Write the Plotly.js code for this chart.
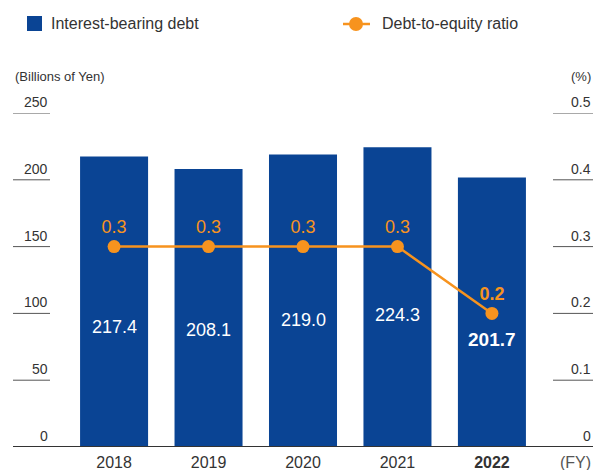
<!DOCTYPE html>
<html>
<head>
<meta charset="utf-8">
<script src="https://cdn.plot.ly/plotly-3.0.1.min.js"></script>
<style>
  html, body { margin: 0; padding: 0; background: #fff; }
  #chart { width: 606px; height: 470px; }
</style>
</head>
<body>
<div id="chart"></div>
<script>
// Fiscal years and series
const years = ['2018', '2019', '2020', '2021', '2022'];
const debt = [217.4, 208.1, 219.0, 224.3, 201.7];      // billions of yen
const ratio = [0.3, 0.3, 0.3, 0.3, 0.2];               // debt-to-equity ratio
const debtTicks = [0, 50, 100, 150, 200, 250];
const ratioTicks = [0, 0.1, 0.2, 0.3, 0.4, 0.5];

const BLUE = '#0A4494';
const ORANGE = '#F7931E';
const NARROW = '"Liberation Sans Narrow", "Liberation Sans", Arial, sans-serif';
const SANS = '"Liberation Sans", Arial, sans-serif';
const last = years.length - 1;

// vertical placement of the white value labels inside each bar (axis units)
const valueLabelY = [89.8, 87.6, 95.1, 98.8, 80.1];

const bars = {
  type: 'bar',
  x: years,
  y: debt,
  width: 0.72,
  marker: { color: BLUE },
  hoverinfo: 'skip',
  showlegend: false
};

const line = {
  type: 'scatter',
  mode: 'lines+markers+text',
  x: years,
  y: ratio,
  yaxis: 'y2',
  line: { color: ORANGE, width: 2.5 },
  marker: { color: ORANGE, size: 13 },
  text: ratio.map((v, i) => i === last ? '<b>' + v.toFixed(1) + '</b>' : v.toFixed(1)),
  textposition: 'top center',
  textfont: { family: SANS, size: 18, color: ORANGE },
  cliponaxis: false,
  hoverinfo: 'skip',
  showlegend: false
};

const leftEdge = (50 - 13) / 580;
const rightStart = (553 - 13) / 580;

const shapes = [];
const annotations = [];

// short tick rules and labels on both sides
debtTicks.forEach(v => {
  if (v !== 0) {
    shapes.push({ type: 'line', xref: 'paper', yref: 'y', x0: 0, x1: leftEdge, y0: v, y1: v,
                  line: { color: '#555', width: 1 } });
  }
  annotations.push({ xref: 'paper', yref: 'y', x: leftEdge, y: v, xanchor: 'right', yanchor: 'bottom',
                     yshift: 1, showarrow: false, text: String(v),
                     font: { family: NARROW, size: 14, color: '#333' } });
});
ratioTicks.forEach(v => {
  if (v !== 0) {
    shapes.push({ type: 'line', xref: 'paper', yref: 'y2', x0: rightStart, x1: 1, y0: v, y1: v,
                  line: { color: '#555', width: 1 } });
  }
  annotations.push({ xref: 'paper', yref: 'y2', x: 1, y: v, xanchor: 'right', yanchor: 'bottom',
                     yshift: 1, showarrow: false, text: v === 0 ? '0' : v.toFixed(1),
                     font: { family: NARROW, size: 14, color: '#333' } });
});

// baseline
shapes.push({ type: 'line', xref: 'paper', yref: 'y', x0: 0, x1: 1, y0: 0, y1: 0,
              line: { color: '#333', width: 2 }, layer: 'above' });

// values inside the bars (x given as category index)
debt.forEach((v, i) => {
  annotations.push({ x: i, y: valueLabelY[i], xref: 'x', yref: 'y', showarrow: false,
                     xanchor: 'center', yanchor: 'middle',
                     text: i === last ? '<b>' + v.toFixed(1) + '</b>' : v.toFixed(1),
                     font: { family: SANS, size: i === last ? 19 : 18, color: '#fff' } });
});

// unit captions
annotations.push({ xref: 'paper', yref: 'paper', x: 0, y: (447 - 76) / 334, xanchor: 'left', yanchor: 'middle',
                   showarrow: false, text: '(Billions of Yen)', font: { family: NARROW, size: 13, color: '#333' } });
annotations.push({ xref: 'paper', yref: 'paper', x: 1, y: (447 - 76) / 334, xanchor: 'right', yanchor: 'middle',
                   showarrow: false, text: '(%)', font: { family: NARROW, size: 13, color: '#333' } });
annotations.push({ xref: 'paper', yref: 'paper', x: 1, y: (447 - 462) / 334, xanchor: 'right', yanchor: 'middle',
                   showarrow: false, text: '(FY)', font: { family: NARROW, size: 16, color: '#555' } });

// legend
const px = x => (x - 13) / 580;
const py = y => (447 - y) / 334;
shapes.push({ type: 'rect', xref: 'paper', yref: 'paper', x0: px(27), x1: px(42), y0: py(31), y1: py(16),
              fillcolor: BLUE, line: { width: 0 } });
annotations.push({ xref: 'paper', yref: 'paper', x: px(49), y: py(24), xanchor: 'left', yanchor: 'middle',
                   showarrow: false, text: 'Interest-bearing debt', font: { family: SANS, size: 16, color: '#333' } });
shapes.push({ type: 'line', xref: 'paper', yref: 'paper', x0: px(343), x1: px(370), y0: py(24), y1: py(24),
              line: { color: ORANGE, width: 2.5 } });
shapes.push({ type: 'circle', xref: 'paper', yref: 'paper', x0: px(349), x1: px(363), y0: py(31), y1: py(17),
              fillcolor: ORANGE, line: { width: 0 } });
annotations.push({ xref: 'paper', yref: 'paper', x: px(380), y: py(24), xanchor: 'left', yanchor: 'middle',
                   showarrow: false, text: 'Debt-to-equity ratio', font: { family: SANS, size: 16, color: '#333' } });

const layout = {
  width: 606,
  height: 470,
  margin: { l: 13, r: 13, t: 113, b: 23, pad: 0 },
  paper_bgcolor: '#fff',
  plot_bgcolor: '#fff',
  showlegend: false,
  xaxis: {
    type: 'category',
    range: [-1.07, 5.07],
    tickvals: years,
    ticktext: years.map((y, i) => i === last ? '<b>' + y + '</b>' : y),
    tickfont: { family: SANS, size: 16, color: '#333' },
    ticks: '',
    ticklabelstandoff: 4,
    showgrid: false,
    showline: false,
    zeroline: false,
    fixedrange: true
  },
  yaxis: {
    range: [0, 250],
    showgrid: false,
    showticklabels: false,
    zeroline: false,
    showline: false,
    ticks: '',
    fixedrange: true
  },
  yaxis2: {
    range: [0, 0.5],
    overlaying: 'y',
    side: 'right',
    showgrid: false,
    showticklabels: false,
    zeroline: false,
    showline: false,
    ticks: '',
    fixedrange: true
  },
  shapes: shapes,
  annotations: annotations
};

Plotly.newPlot('chart', [bars, line], layout, { displayModeBar: false, staticPlot: true });
</script>
</body>
</html>
